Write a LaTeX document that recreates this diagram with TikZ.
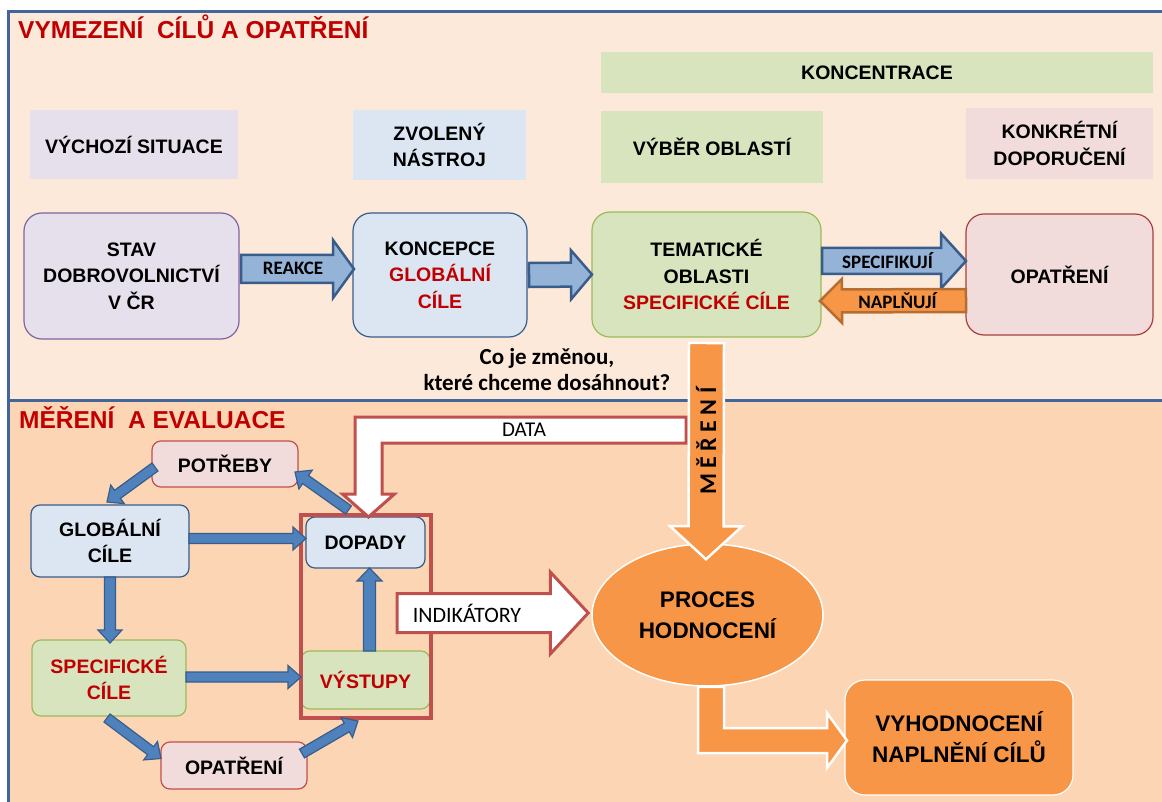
\documentclass[tikz,border=0pt]{standalone}
\usepackage{fontspec}
\setmainfont{Liberation Sans}
\newfontfamily\calib{Carlito}
\usepackage{xcolor}
\usetikzlibrary{calc,shapes.geometric}

\definecolor{topbg}{HTML}{FDE9D9}
\definecolor{botbg}{HTML}{FCD5B4}
\definecolor{frameblue}{HTML}{426699}
\definecolor{lila}{HTML}{E6E0EC}
\definecolor{lilaline}{HTML}{8064A2}
\definecolor{lblue}{HTML}{DCE6F2}
\definecolor{bline}{HTML}{385D8A}
\definecolor{lgreen}{HTML}{D7E4BD}
\definecolor{gline}{HTML}{9BBB59}
\definecolor{pink}{HTML}{F2DCDB}
\definecolor{rline}{HTML}{C0504D}
\definecolor{opline}{HTML}{A5403D}
\definecolor{redtxt}{HTML}{C00000}
\definecolor{arrblue}{HTML}{95B3D7}
\definecolor{cycblue}{HTML}{4F81BD}
\definecolor{orng}{HTML}{F79646}
\definecolor{orngline}{HTML}{B66D31}

\newcommand\bx{\fontsize{19.5pt}{26.5pt}\selectfont\bfseries}
\newcommand\bigbx{\fontsize{22.5pt}{31pt}\selectfont\bfseries}

% block arrow: style, from, to, shaft half width, head half width, head length
\newcommand\fatarrow[6]{%
	\coordinate (fa-a) at #2;
	\coordinate (fa-t) at #3;
	\coordinate (fa-b) at ($(fa-t)!#6pt!(fa-a)$);
	\draw[#1] ($(fa-a)!#4pt!90:(fa-t)$) -- ($(fa-b)!#4pt!90:(fa-t)$) -- ($(fa-b)!#5pt!90:(fa-t)$) -- (fa-t)
		-- ($(fa-b)!#5pt!-90:(fa-t)$) -- ($(fa-b)!#4pt!-90:(fa-t)$) -- ($(fa-a)!#4pt!-90:(fa-t)$) -- cycle;
}

\begin{document}
\begin{tikzpicture}[x=1pt,y=-1pt,
		box/.style={rounded corners=18pt, line width=1.2pt, inner sep=0pt, outer sep=0pt, align=center, font=\bx},
		cbox/.style={box, rounded corners=9pt},
		hdr/.style={inner sep=0pt, outer sep=0pt, align=center, font=\bx},
		lab/.style={inner sep=0pt, font=\calib\fontsize{19pt}{22pt}\selectfont\bfseries},
		titl/.style={anchor=base west, inner sep=0pt, text=redtxt, font=\fontsize{24.5pt}{28pt}\selectfont\bfseries},
		topblue/.style={fill=arrblue, draw=bline, line width=2.5pt},
		naplarrow/.style={fill=orng, draw=orngline, line width=2.5pt},
		cyc/.style={fill=cycblue, draw=bline, line width=1.2pt},
		whitearrow/.style={fill=white, draw=rline, line width=3pt},
		orangearrow/.style={fill=orng, draw=white, line width=2.5pt}]

	\useasboundingbox (0,0) rectangle (1162,802);
	\fill[white] (0,0) rectangle (1162,802);
	\fill[topbg] (8,11.5) rectangle (1175,400.5);
	\fill[botbg] (8,400.5) rectangle (1175,810);
	\draw[frameblue, line width=3pt] (8,810) -- (8,11.5) -- (1175,11.5);
	\draw[frameblue, line width=3pt] (8,400.5) -- (1175,400.5);

	\node[titl] (titul) at (18,39) {VYMEZENÍ\ \ CÍLŮ A OPATŘENÍ};
	\node[titl] (mereni) at (19,428) {MĚŘENÍ\ \ A EVALUACE};

	% headers
	\node[hdr, fill=lila, minimum width=208pt, minimum height=69pt] (hvych) at (134,144.5) {VÝCHOZÍ SITUACE};
	\node[hdr, fill=lblue, minimum width=173pt, minimum height=70pt] (hnastroj) at (439.5,145) {ZVOLENÝ\\NÁSTROJ};
	\node[hdr, fill=lgreen, minimum width=552pt, minimum height=41pt] (hkoncentr) at (877,72.5) {KONCENTRACE};
	\node[hdr, fill=lgreen, minimum width=222pt, minimum height=72pt] (hvyber) at (712,147) {VÝBĚR OBLASTÍ};
	\node[hdr, fill=pink, minimum width=187pt, minimum height=71pt] (hdopor) at (1059.5,143.5) {KONKRÉTNÍ\\DOPORUČENÍ};

	\node[box, fill=lila, draw=lilaline, minimum width=215pt, minimum height=126pt] (stav) at (131.5,276) {STAV\\DOBROVOLNICTVÍ\\V ČR};
	\node[box, fill=lblue, draw=bline, minimum width=174pt, minimum height=124pt] (konc) at (440,275) {KONCEPCE\\\textcolor{redtxt}{GLOBÁLNÍ}\\\textcolor{redtxt}{CÍLE}};
	\node[box, fill=lgreen, draw=gline, minimum width=229pt, minimum height=125pt] (tema) at (706.5,274.5) {TEMATICKÉ\\OBLASTI\\\textcolor{redtxt}{SPECIFICKÉ CÍLE}};
	\node[box, fill=pink, draw=opline, minimum width=187pt, minimum height=121pt] (opat) at (1059.5,274.5) {OPATŘENÍ};

	\fatarrow{topblue}{($(stav.east)+(2,-7)$)}{($(konc.west)+(1,-6)$)}{14}{29}{21}
	\node[lab] (reakce) at ($(stav.east)!0.5!(konc.west)+(-3,-7)$) {REAKCE};
	\fatarrow{topblue}{($(konc.east)+(2,0)$)}{(tema.west)}{12}{24.5}{21}
	\fatarrow{topblue}{($(tema.east)+(1,-13.5)$)}{($(opat.west)+(0,-13.5)$)}{13}{27.5}{25}
	\node[lab] (specif) at ($(tema.east)!0.5!(opat.west)+(-6,-13.5)$) {SPECIFIKUJÍ};
	\fatarrow{naplarrow}{($(opat.west)+(0,26)$)}{($(tema.east)+(-1,26.5)$)}{11.5}{22}{22}
	\node[lab] (naplnuji) at ($(tema.east)!0.5!(opat.west)+(4,26)$) {NAPLŇUJÍ};

	\node[align=center, font=\calib\fontsize{23pt}{26pt}\selectfont\bfseries] (otazka) at (547,370) {Co je změnou,\\které chceme dosáhnout?};

	% cycle
	\node[cbox, fill=pink, draw=rline, minimum width=146pt, minimum height=46pt] (potreby) at (225,464) {POTŘEBY};
	\node[cbox, fill=lblue, draw=bline, minimum width=158pt, minimum height=72pt] (glob) at (110,541) {GLOBÁLNÍ\\CÍLE};
	\node[cbox, fill=lgreen, draw=gline, minimum width=154pt, minimum height=76pt, text=redtxt] (spec) at (109,678) {SPECIFICKÉ\\CÍLE};
	\node[cbox, fill=pink, draw=rline, minimum width=146pt, minimum height=47pt] (opat2) at (234,765.5) {OPATŘENÍ};
	\node[cbox, fill=lblue, draw=bline, minimum width=119pt, minimum height=51pt] (dopady) at (365.5,542.5) {DOPADY};
	\node[cbox, fill=lgreen, draw=gline, minimum width=129pt, minimum height=58pt, text=redtxt] (vystupy) at (365.5,680) {VÝSTUPY};
	\node[draw=rline, line width=3.5pt, inner sep=0pt, outer sep=0pt, minimum width=130pt, minimum height=203pt] (vbox) at (366,616.5) {};

	\fatarrow{cyc}{($(potreby.west)+(3,3)$)}{($(glob.north)+(-3,-3)$)}{5}{11.5}{13}
	\fatarrow{cyc}{($(dopady.north)+(-17,-7)$)}{($(potreby.east)+(-3,8)$)}{5}{11.5}{13}
	\fatarrow{cyc}{($(glob.east)+(0,-2.5)$)}{($(dopady.west)+(0,-4)$)}{5}{11.5}{13}
	\fatarrow{cyc}{(glob.south)}{($(glob.south |- spec.north)+(0,3)$)}{5.5}{12}{13}
	\fatarrow{cyc}{($(spec.east)+(0,-1)$)}{($(vystupy.west)+(0,-3)$)}{5}{11.5}{13}
	\fatarrow{cyc}{($(vystupy.north)+(4,0)$)}{($(dopady.south)+(4,0)$)}{6}{12.5}{13}
	\fatarrow{cyc}{($(spec.south)+(-2,2)$)}{($(opat2.west)+(0,-7)$)}{5}{11.5}{13}
	\fatarrow{cyc}{($(opat2.east)+(-5,-12)$)}{($(vbox.south)+(-8,3)$)}{5}{11.5}{13}

	% data
	\coordinate (dend) at (686,430);
	\coordinate (dtip) at ($(dopady.north)+(3,0)$);
	\draw[whitearrow] ($(dend)+(0,-13)$) -- ($(dtip |- dend)+(-13.5,-13)$) -- ($(dtip)+(-13.5,-23)$) -- ($(dtip)+(-26,-23)$) -- (dtip)
		-- ($(dtip)+(26,-23)$) -- ($(dtip)+(13.5,-23)$) -- ($(dtip |- dend)+(13.5,13)$) -- ($(dend)+(0,13)$) -- cycle;
	\node[font=\calib\fontsize{21pt}{24pt}\selectfont] (datalbl) at (524,430) {DATA};

	\node[ellipse, fill=orng, draw=white, line width=1.5pt, inner sep=0pt, minimum width=231pt, minimum height=142pt, align=center, font=\bigbx] (proces) at (707.5,615) {PROCES\\HODNOCENÍ};
	\node[box, rounded corners=20pt, fill=orng, draw=white, minimum width=228pt, minimum height=115pt, font=\bigbx] (vyhod) at (959,737.5) {VYHODNOCENÍ\\NAPLNĚNÍ CÍLŮ};

	\fatarrow{orangearrow}{($(tema.south)+(0,6)$)}{($(proces.north)+(-1.5,16)$)}{17.5}{36}{33}
	\node[rotate=90, font=\calib\fontsize{24pt}{26pt}\selectfont\bfseries] (merlbl) at (706,441) {M Ě Ř E N Í};

	\coordinate (itail) at (397,613);
	\fatarrow{whitearrow}{(itail)}{($(proces.west)+(-3,-2)$)}{19.5}{41}{38}
	\node[font=\calib\fontsize{22pt}{24pt}\selectfont] (indik) at (467,613) {INDIKÁTORY};

	\coordinate (lstart) at ($(proces.south)+(3.5,0)$);
	\coordinate (ltip) at ($(vyhod.west)+(2,3)$);
	\draw[orangearrow] ($(lstart)+(-13,0)$) -- ($(lstart |- ltip)+(-13,12.5)$) -- ($(ltip)+(-20,12.5)$) -- ($(ltip)+(-20,27.5)$) -- (ltip)
		-- ($(ltip)+(-20,-27.5)$) -- ($(ltip)+(-20,-12.5)$) -- ($(lstart |- ltip)+(13,-12.5)$) -- ($(lstart)+(13,0)$) -- cycle;

\end{tikzpicture}
\end{document}
